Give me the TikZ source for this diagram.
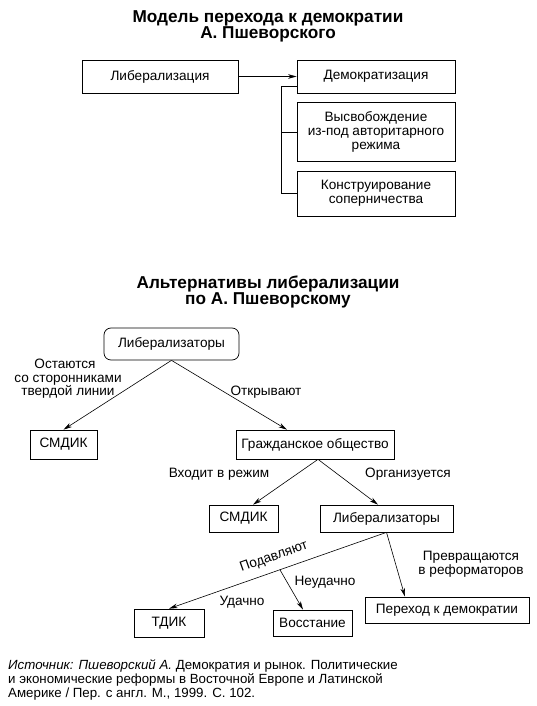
\documentclass[tikz,border=0pt]{standalone}
\usepackage{fontspec}
\setmainfont{Liberation Sans}
\usetikzlibrary{arrows.meta,calc}
\begin{document}
\begin{tikzpicture}[x=1pt,y=-1pt,
  every node/.style={font=\fontsize{13.6}{13.6}\selectfont, inner sep=0pt},
  box/.style={draw, line width=0.7pt, align=center},
  rbox/.style={box, rounded corners=7pt},
  lbl/.style={align=center},
  ttl/.style={align=center, font=\bfseries\fontsize{17.2}{16}\selectfont},
  arr/.style={-{Stealth[length=8.5pt,width=4.5pt,inset=2.5pt]}, line width=0.6pt},
  ln/.style={line width=0.6pt}]
\useasboundingbox (0,0) rectangle (536,706);
% ---- top diagram
\node[ttl] (t1) at (268,26) {Модель перехода к демократии\\А. Пшеворского};
\node[box, minimum width=156, minimum height=33] (lib) at (160,76.5) {Либерализация};
\node[box, minimum width=158, minimum height=33] (dem) at (376,76.5) {Демократизация};
\node[box, minimum width=158, minimum height=59] (vys) at (376,132) {Высвобождение\\из-под авторитарного\\режима};
\node[box, minimum width=158, minimum height=45] (kon) at (376,193.5) {Конструирование\\соперничества};
\draw[arr] (lib) -- (dem);
\coordinate (b1) at ($(dem.west)+(-15,9.5)$);
\draw[ln] ($(dem.west)+(0,9.5)$) -- (b1) |- (kon.west);
\draw[ln] (vys.west) -- (vys.west -| b1);
% ---- bottom diagram
\node[ttl] (t2) at (268,292) {Альтернативы либерализации\\по А. Пшеворскому};
\node[rbox, minimum width=135, minimum height=32] (lz1) at (171.5,344) {Либерализаторы};
\node[box, minimum width=67, minimum height=29] (sm1) at (63.5,444.5) {СМДИК};
\node[box, minimum width=158, minimum height=29] (gr) at (315,444.5) {Гражданское общество};
\node[box, minimum width=69, minimum height=27] (sm2) at (243.5,518.5) {СМДИК};
\node[box, minimum width=133, minimum height=27] (lz2) at (386.5,518.5) {Либерализаторы};
\node[box, minimum width=70, minimum height=28] (td) at (169,623) {ТДИК};
\node[box, minimum width=79, minimum height=26] (vo) at (312.5,623) {Восстание};
\node[box, minimum width=164, minimum height=26] (pd) at (447,610) {Переход к демократии};
\draw[arr] (lz1.south) -- (sm1.north);
\draw[arr] (lz1.south) -- ([xshift=-28pt]gr.north);
\draw[arr] ([xshift=3pt]gr.south) -- ([xshift=9.5pt]sm2.north);
\draw[arr] ([xshift=3pt]gr.south) -- ([xshift=-8.5pt]lz2.north);
\draw[arr] (lz2.south) -- coordinate[pos=0.49] (mid) (td.north);
\draw[arr] (lz2.south) -- ([xshift=-42pt]pd.north);
\draw[arr] (mid) -- ([xshift=-9.5pt]vo.north);
\node[lbl] (l1) at (68,379) {\hspace*{-6pt}Остаются\\со сторонниками\\твердой линии};
\node[lbl] (l2) at (266,392) {Открывают};
\node[lbl] (l3) at (219,474) {Входит в режим};
\node[lbl] (l4) at (408,474) {Организуется};
\node[lbl, rotate=19.4] (l5) at (274,557) {Подавляют};
\node[lbl] (l6) at (325,582) {Неудачно};
\node[lbl] (l7) at (242,602) {Удачно};
\node[lbl] (l8) at (471,564.5) {Превращаются\\в реформаторов};
% ---- source
\node[anchor=north west, align=left, font=\fontsize{13.3}{14.2}\selectfont] (src) at (8,659)
 {\textit{Источник: Пшеворский А.} Демократия и рынок. Политические\\
  и экономические реформы в Восточной Европе и Латинской\\
  Америке / Пер. с англ. М., 1999. С. 102.};
\end{tikzpicture}
\end{document}
